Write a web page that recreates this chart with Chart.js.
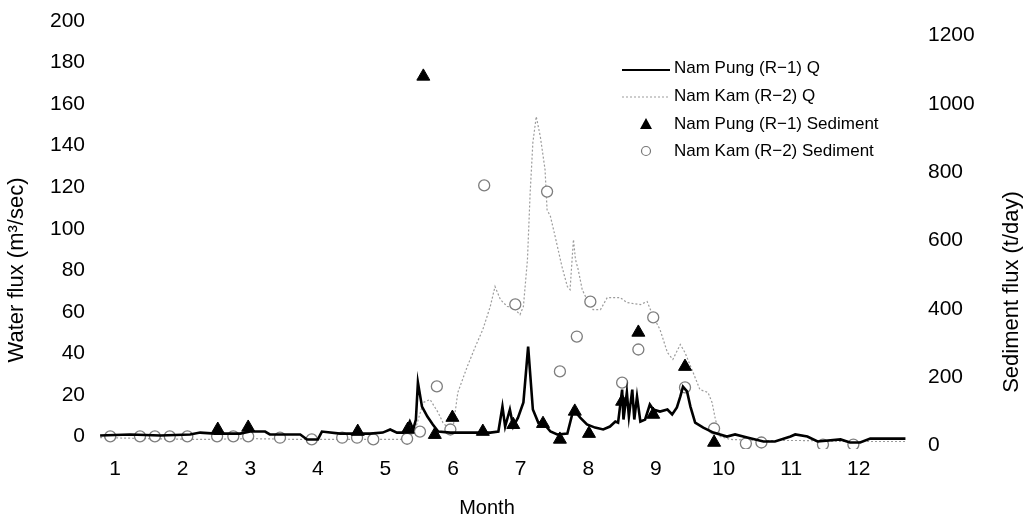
<!DOCTYPE html>
<html>
<head>
<meta charset="utf-8">
<script src="https://cdn.jsdelivr.net/npm/chart.js@4.4.0/dist/chart.umd.min.js"></script>
<style>
  html, body { margin: 0; padding: 0; background: #fff; }
  #wrap { width: 1030px; height: 524px; }
</style>
</head>
<body>
<div id="wrap"><canvas id="flux-chart" width="1030" height="524"></canvas></div>
<script>
// x values are in months (1 = position of the "1" tick)
const monthTicks = [1, 2, 3, 4, 5, 6, 7, 8, 9, 10, 11, 12];
const waterTicks = [0, 20, 40, 60, 80, 100, 120, 140, 160, 180, 200];
const sedimentTicks = [0, 200, 400, 600, 800, 1000, 1200];

// Nam Pung (R-1) discharge, m3/sec
const pungQMonth = [0.78, 1.22, 1.67, 2.11, 2.26, 2.48, 2.85, 3.00, 3.22, 3.29, 3.74, 3.84, 4.00, 4.06, 4.33, 4.77,
  4.96, 5.07, 5.17, 5.26, 5.32, 5.36, 5.41, 5.45, 5.48, 5.54, 5.62, 5.70, 5.78, 5.96, 6.25, 6.55,
  6.67, 6.73, 6.77, 6.84, 6.89, 6.96, 7.04, 7.11, 7.18, 7.26, 7.33, 7.44, 7.54, 7.69, 7.78, 7.88,
  7.98, 8.10, 8.22, 8.32, 8.40, 8.44, 8.50, 8.52, 8.57, 8.60, 8.65, 8.68, 8.72, 8.77, 8.84, 8.91,
  8.96, 9.06, 9.17, 9.24, 9.31, 9.36, 9.40, 9.46, 9.51, 9.58, 9.70, 9.85, 10.05, 10.17, 10.35, 10.59,
  10.76, 10.99, 11.06, 11.24, 11.39, 11.73, 11.87, 12.02, 12.17, 12.69];
const pungQ = [0.5, 1.0, 0.5, 1.0, 1.9, 1.4, 1.4, 2.4, 2.4, 1.0, 1.0, -1.4, -1.4, 2.4, 1.4, 1.4,
  1.9, 3.4, 1.9, 1.9, 4.3, 7.2, 3.4, 8.2, 26.0, 14.4, 9.6, 5.8, 2.4, 1.9, 1.9, 1.9,
  2.4, 14.4, 4.8, 13.0, 4.8, 9.1, 16.4, 43.3, 13.0, 6.7, 6.7, 2.4, 1.0, 1.4, 13.0, 9.1,
  5.8, 4.3, 3.4, 4.8, 7.2, 6.7, 22.6, 8.2, 21.2, 9.6, 22.6, 8.2, 19.2, 7.2, 8.2, 15.4,
  13.0, 12.0, 13.0, 10.6, 14.0, 19.2, 24.0, 21.7, 14.4, 6.7, 4.3, 1.9, 0.0, 1.0, -0.5, -2.4,
  -2.4, 0.0, 1.0, 0.0, -2.4, -1.4, -2.9, -2.9, -1.0, -1.0];

// Nam Kam (R-2) discharge, m3/sec
const kamQMonth = [0.78, 1.52, 2.26, 3.00, 3.74, 4.48, 5.22, 5.36, 5.44, 5.56, 5.66, 5.78, 5.85, 5.99, 6.07, 6.21,
  6.33, 6.44, 6.55, 6.62, 6.70, 6.80, 6.89, 6.99, 7.04, 7.10, 7.14, 7.18, 7.23, 7.29, 7.36, 7.39,
  7.44, 7.51, 7.61, 7.69, 7.73, 7.78, 7.81, 7.85, 7.91, 7.98, 8.07, 8.18, 8.28, 8.47, 8.57, 8.77,
  8.87, 8.96, 9.06, 9.17, 9.25, 9.36, 9.43, 9.55, 9.65, 9.77, 9.83, 9.88, 9.95, 10.10, 10.54, 11.13,
  11.87, 12.69];
const kamQ = [-0.5, -1.0, -1.4, -1.0, -1.4, -1.4, -1.4, -0.5, 3.4, 16.4, 17.8, 11.5, 6.7, 1.9, 21.2, 33.7,
  43.3, 51.5, 62.6, 72.2, 65.9, 62.6, 62.1, 58.7, 62.6, 85.2, 117.4, 141.5, 154.0, 144.4, 128.5, 109.2,
  105.9, 96.2, 81.8, 72.2, 70.7, 94.8, 85.2, 80.4, 70.7, 65.9, 61.1, 61.1, 66.9, 66.9, 64.5, 63.5,
  65.0, 57.7, 51.5, 40.4, 37.1, 44.3, 40.4, 30.8, 22.6, 21.2, 16.4, 8.2, 0.0, -1.4, -1.9, -1.9,
  -2.4, -2.4];

// sediment flux, t/day
const pungSedMonth = [2.52, 2.97, 4.59, 5.33, 5.56, 5.73, 5.99, 6.44, 6.89, 7.33, 7.58, 7.80, 8.01, 8.50, 8.74, 8.96, 9.43, 9.86];
const pungSed = [47, 53, 41, 47, 1080, 32, 82, 41, 61, 64, 18, 100, 35, 129, 331, 91, 231, 9];
const kamSedMonth = [0.93, 1.37, 1.59, 1.81, 2.07, 2.51, 2.75, 2.97, 3.44, 3.91, 4.36, 4.58, 4.82, 5.32, 5.51, 5.76,
  5.96, 6.46, 6.92, 7.39, 7.58, 7.83, 8.03, 8.50, 8.74, 8.96, 9.43, 9.86, 10.33, 10.56, 11.47, 11.92];
const kamSed = [27, 27, 27, 27, 27, 27, 27, 27, 23, 18, 23, 23, 18, 20, 41, 173,
  47, 761, 413, 743, 217, 319, 421, 184, 281, 375, 170, 50, 6, 9, 3, 3];

const pairs = (xs, ys) => xs.map((x, i) => ({ x: x, y: ys[i] }));

const FONT = "'Liberation Sans', Arial, sans-serif";
const INK = '#000';
const GREY = '#9c9c9c';

// axis titles and the hand placed legend box
const extrasPlugin = {
  id: 'extras',
  afterDraw(chart) {
    const ctx = chart.ctx;
    ctx.save();
    ctx.fillStyle = INK;
    ctx.textBaseline = 'middle';
    ctx.textAlign = 'center';
    ctx.font = '22px ' + FONT;

    ctx.save();
    ctx.translate(17, 270);
    ctx.rotate(-Math.PI / 2);
    ctx.fillText('Water flux (m\u00b3/sec)', 0, 0);
    ctx.restore();

    ctx.save();
    ctx.translate(1012, 292);
    ctx.rotate(-Math.PI / 2);
    ctx.fillText('Sediment flux (t/day)', 0, 0);
    ctx.restore();

    ctx.font = '20px ' + FONT;
    ctx.fillText('Month', 487, 508);

    // legend
    const lx = 622, tx = 674;
    const rows = [68, 96, 124, 151];
    ctx.textAlign = 'left';
    ctx.font = '17px ' + FONT;

    ctx.strokeStyle = INK;
    ctx.lineWidth = 2;
    ctx.beginPath(); ctx.moveTo(lx, rows[0] + 2); ctx.lineTo(lx + 48, rows[0] + 2); ctx.stroke();
    ctx.fillText('Nam Pung (R\u22121) Q', tx, rows[0]);

    ctx.strokeStyle = GREY;
    ctx.lineWidth = 1.2;
    ctx.setLineDash([2, 2]);
    ctx.beginPath(); ctx.moveTo(lx, rows[1] + 1); ctx.lineTo(lx + 46, rows[1] + 1); ctx.stroke();
    ctx.setLineDash([]);
    ctx.fillText('Nam Kam (R\u22122) Q', tx, rows[1]);

    ctx.fillStyle = INK;
    ctx.beginPath();
    ctx.moveTo(646, rows[2] - 6); ctx.lineTo(652, rows[2] + 5); ctx.lineTo(640, rows[2] + 5);
    ctx.closePath(); ctx.fill();
    ctx.fillText('Nam Pung (R\u22121) Sediment', tx, rows[2]);

    ctx.fillStyle = '#fff';
    ctx.strokeStyle = '#777';
    ctx.lineWidth = 1.2;
    ctx.beginPath(); ctx.arc(646, rows[3], 4.5, 0, Math.PI * 2); ctx.fill(); ctx.stroke();
    ctx.fillStyle = INK;
    ctx.fillText('Nam Kam (R\u22122) Sediment', tx, rows[3]);
    ctx.restore();
  }
};

const setTicks = (values) => (scale) => { scale.ticks = values.map(v => ({ value: v })); };

new Chart(document.getElementById('flux-chart'), {
  type: 'line',
  data: {
    datasets: [
      {
        label: 'Nam Pung (R-1) Sediment',
        type: 'scatter',
        data: pairs(pungSedMonth, pungSed),
        yAxisID: 'sed',
        pointStyle: 'triangle',
        pointRadius: 7.5,
        backgroundColor: INK,
        borderColor: INK,
        borderWidth: 1,
        showLine: false,
        order: 0
      },
      {
        label: 'Nam Pung (R-1) Q',
        data: pairs(pungQMonth, pungQ),
        yAxisID: 'water',
        borderColor: INK,
        borderWidth: 2.6,
        pointRadius: 0,
        tension: 0,
        order: 1
      },
      {
        label: 'Nam Kam (R-2) Sediment',
        type: 'scatter',
        data: pairs(kamSedMonth, kamSed),
        yAxisID: 'sed',
        pointStyle: 'circle',
        pointRadius: 5.5,
        backgroundColor: '#fff',
        borderColor: '#7d7d7d',
        borderWidth: 1.3,
        showLine: false,
        order: 2
      },
      {
        label: 'Nam Kam (R-2) Q',
        data: pairs(kamQMonth, kamQ),
        yAxisID: 'water',
        borderColor: GREY,
        borderWidth: 1.2,
        borderDash: [2, 2],
        pointRadius: 0,
        tension: 0,
        order: 3
      }
    ]
  },
  options: {
    responsive: false,
    animation: false,
    layout: { padding: { top: 21, left: 0, right: 0, bottom: 0 } },
    plugins: {
      legend: { display: false },
      tooltip: { enabled: false }
    },
    scales: {
      x: {
        type: 'linear',
        min: 0.66,
        max: 12.92,
        grid: { display: false, drawTicks: false },
        border: { display: false },
        afterBuildTicks: setTicks(monthTicks),
        afterFit: (s) => { s.height = 75; },
        ticks: {
          autoSkip: false,
          maxRotation: 0,
          padding: 8,
          color: INK,
          font: { family: FONT, size: 21 },
          callback: (v) => String(v)
        }
      },
      water: {
        position: 'left',
        min: -6,
        max: 200,
        grid: { display: false, drawTicks: false },
        border: { display: false },
        afterBuildTicks: setTicks(waterTicks),
        afterFit: (s) => { s.width = 92; },
        ticks: {
          padding: 7,
          color: INK,
          font: { family: FONT, size: 21 },
          callback: (v) => String(v)
        }
      },
      sed: {
        position: 'right',
        min: -10,
        max: 1242,
        grid: { display: false, drawTicks: false },
        border: { display: false },
        afterBuildTicks: setTicks(sedimentTicks),
        afterFit: (s) => { s.width = 109; },
        ticks: {
          padding: 7,
          color: INK,
          font: { family: FONT, size: 21 },
          callback: (v) => String(v)
        }
      }
    }
  },
  plugins: [extrasPlugin]
});
</script>
</body>
</html>
